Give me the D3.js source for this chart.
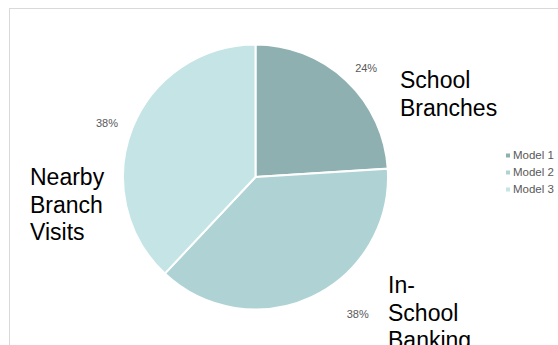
<!DOCTYPE html>
<html>
<head>
<meta charset="utf-8">
<script src="https://cdn.jsdelivr.net/npm/d3@7"></script>
<style>
  body { margin: 0; background: #fff; }
  svg { font-family: "Liberation Sans", Arial, sans-serif; }
</style>
</head>
<body>
<svg id="chart"></svg>
<script>
// data
const series = ["Model 1", "Model 2", "Model 3"];
const values = [24, 38, 38];
const categoryLabels = [["School", "Branches"], ["In-", "School", "Banking"], ["Nearby", "Branch", "Visits"]];
const colors = ["#8fb0b1", "#afd3d4", "#c5e4e6"];

const width = 558, height = 345;
const cx = 255.5, cy = 177, radius = 132.5;

const svg = d3.select("#chart")
    .attr("width", width)
    .attr("height", height);

// chart area border (runs off the right and bottom)
svg.append("rect")
    .attr("x", 9.5)
    .attr("y", 8.5)
    .attr("width", width + 20)
    .attr("height", height + 20)
    .attr("fill", "none")
    .attr("stroke", "#d9d9d9")
    .attr("stroke-width", 1);

const pie = d3.pie().sort(null).value(d => d);
const arcs = pie(values);
const arc = d3.arc().innerRadius(0).outerRadius(radius);

const g = svg.append("g")
    .attr("transform", `translate(${cx},${cy})`);

g.selectAll("path.slice")
    .data(arcs)
    .join("path")
    .attr("class", "slice")
    .attr("d", arc)
    .attr("fill", (d, i) => colors[i])
    .attr("stroke", "#fff")
    .attr("stroke-width", 2);

// percent labels just outside the pie (best-fit nudges)
const pctArc = d3.arc().innerRadius(radius + 16).outerRadius(radius + 16);
const pctOffset = [[9, 3.5], [39, 6.5], [-10.5, 4.5]];
g.selectAll("text.pct")
    .data(arcs)
    .join("text")
    .attr("class", "pct")
    .attr("x", (d, i) => pctArc.centroid(d)[0] + pctOffset[i][0])
    .attr("y", (d, i) => pctArc.centroid(d)[1] + pctOffset[i][1])
    .attr("text-anchor", "middle")
    .attr("font-size", 11)
    .attr("fill", "#595959")
    .text(d => d3.format(".0%")(d.data / d3.sum(values)));

// category labels
const catPos = [[400, 88], [388, 293], [30, 185]];
const lineH = 27.5;
categoryLabels.forEach((lines, i) => {
    const t = svg.append("text")
        .attr("x", catPos[i][0])
        .attr("y", catPos[i][1])
        .attr("font-size", 23)
        .attr("fill", "#000");
    lines.forEach((ln, j) => {
        t.append("tspan")
            .attr("x", catPos[i][0])
            .attr("y", catPos[i][1] + j * lineH)
            .text(ln);
    });
});

// legend
const legend = svg.append("g")
    .attr("transform", "translate(506,155)");
const item = legend.selectAll("g")
    .data(series)
    .join("g")
    .attr("transform", (d, i) => `translate(0,${i * 17})`);
item.append("rect")
    .attr("x", 0)
    .attr("y", -1.5)
    .attr("width", 4)
    .attr("height", 4)
    .attr("fill", (d, i) => colors[i]);
item.append("text")
    .attr("x", 7)
    .attr("y", 4)
    .attr("font-size", 11.5)
    .attr("fill", "#595959")
    .text(d => d);
</script>
</body>
</html>
